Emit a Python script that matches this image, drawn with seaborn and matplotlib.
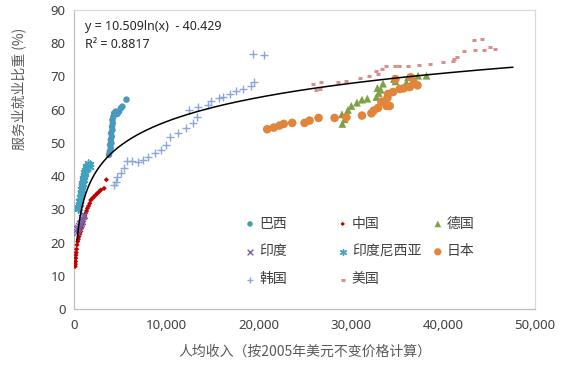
import numpy as np
import pandas as pd
import matplotlib
matplotlib.use("Agg")
import matplotlib.pyplot as plt
import seaborn as sns
from matplotlib.legend import Legend

# ---------------- data ----------------
brazil_x = [3800, 3880, 3990, 3910, 4060, 3990, 4100, 4020, 4170, 4130, 4210, 4170, 4280, 4350, 4530, 4710, 4890, 5080, 5250, 5690]
brazil_y = [46.4, 47.4, 48.4, 49.4, 49.9, 50.9, 51.9, 52.9, 53.9, 54.9, 55.9, 56.9, 57.9, 58.9, 59.4, 58.7, 59.4, 60.4, 60.9, 63.0]

china_x = [130, 150, 170, 190, 210, 240, 280, 330, 400, 470, 540, 630, 730, 820, 900, 1000, 1090, 1180, 1270, 1360,
           1450, 1580, 1710, 1820, 2000, 2170, 2350, 2530, 2720, 2900, 3260, 3510]
china_y = [12.8, 13.5, 14.3, 15.3, 16.2, 17.0, 18.0, 19.3, 20.3, 21.0, 21.8, 22.5, 23.3, 24.3, 25.3, 26.3, 27.3, 28.0, 28.8, 29.5,
           30.3, 31.0, 31.8, 32.8, 33.3, 33.8, 34.3, 34.8, 35.3, 35.8, 36.3, 38.9]

germany_x = [29099, 29349, 29055, 29708, 30077, 30686, 31230, 31816, 32795, 32904, 33045, 33262, 33512, 34860, 34708, 36056, 36230, 37317, 38230]
germany_y = [55.7, 57.1, 58.6, 59.9, 61.1, 62.1, 63.0, 63.3, 63.8, 66.5, 65.0, 66.0, 67.8, 68.5, 69.2, 68.2, 69.8, 70.2, 70.2]

india_x = [300, 360, 430, 520, 620, 730, 820, 900, 1000, 1090]
india_y = [23.3, 24.0, 24.3, 25.0, 25.5, 25.8, 26.6, 27.3, 27.9, 28.3]

indonesia_x = [420, 480, 560, 520, 620, 580, 680, 650, 740, 710, 800, 770, 860, 830, 920, 890, 980, 950, 1040, 1010,
               1100, 1070, 1160, 1130, 1220, 1200, 1290, 1260, 1360, 1330, 1430, 1500, 1470, 1580, 1680, 1760]
indonesia_y = [30.0, 30.6, 30.4, 31.4, 31.7, 32.5, 32.9, 33.7, 34.1, 34.9, 35.3, 36.1, 35.9, 36.9, 37.4, 37.9, 37.7, 38.7, 38.9, 39.5,
               39.7, 40.3, 40.5, 41.1, 40.9, 41.7, 41.9, 42.4, 42.1, 42.9, 42.5, 43.4, 43.9, 43.1, 43.6, 42.8]

japan_x = [20947, 21664, 22284, 22751, 23664, 25001, 25545, 26523, 28262, 29534, 31230, 32251, 32501, 32969, 33338, 33882,
           34240, 33990, 34055, 34599, 35328, 35762, 36414, 36882, 37251, 34860, 36523]
japan_y = [54.1, 54.6, 55.2, 55.7, 56.0, 56.0, 56.7, 57.5, 57.5, 57.7, 58.2, 58.9, 59.7, 60.5, 62.4, 61.1,
           61.1, 63.5, 64.7, 65.3, 66.2, 66.4, 66.8, 68.0, 67.3, 69.2, 69.7]

korea_x = [4348, 4533, 4707, 5076, 5435, 5794, 6337, 6989, 7533, 8077, 8772, 9424, 9968, 10435, 11229, 12142, 12859, 13294,
           12424, 13403, 14490, 14859, 15762, 16197, 16925, 17577, 18370, 19208, 19566, 19457, 20577]
korea_y = [37.3, 38.3, 39.8, 40.9, 42.4, 44.4, 44.4, 44.1, 44.7, 45.6, 46.9, 47.9, 49.4, 51.7, 53.1, 54.4, 56.1, 57.7,
           59.9, 60.9, 61.4, 62.7, 63.5, 63.8, 64.8, 65.5, 66.2, 67.2, 68.2, 76.7, 76.4]

usa_x = [25903, 26816, 26273, 26707, 28621, 29534, 30980, 31991, 32719, 32969, 33404, 33806, 34784, 35252, 36230, 37426,
         38589, 39969, 41121, 41197, 41491, 42284, 43480, 44491, 45111, 45654, 43404, 44208]
usa_y = [67.8, 68.2, 65.8, 66.3, 68.2, 68.7, 69.5, 70.0, 71.5, 70.7, 72.2, 73.0, 73.0, 73.0, 73.2, 73.3,
         73.6, 74.2, 74.5, 75.2, 75.7, 77.5, 77.8, 77.8, 78.7, 78.2, 81.0, 81.2]

# trendline shown on chart: y = 10.509 ln(x) - 40.429
trend_a = 10.509
trend_b = -40.429
trend_x_range = [330, 47600]

x_ticks = [0, 10000, 20000, 30000, 40000, 50000]
x_tick_labels = ["0", "10,000", "20,000", "30,000", "40,000", "50,000"]
y_ticks = [0, 10, 20, 30, 40, 50, 60, 70, 80, 90]
y_tick_labels = ["0", "10", "20", "30", "40", "50", "60", "70", "80", "90"]

series = [
    ("巴西", brazil_x, brazil_y),
    ("中国", china_x, china_y),
    ("德国", germany_x, germany_y),
    ("印度", india_x, india_y),
    ("印度尼西亚", indonesia_x, indonesia_y),
    ("日本", japan_x, japan_y),
    ("韩国", korea_x, korea_y),
    ("美国", usa_x, usa_y),
]

styles = {
    "巴西": dict(marker="o", s=22, color="#4A98C0", edgecolor="none"),
    "中国": dict(marker="D", s=7, color="#C00000", edgecolor="none"),
    "德国": dict(marker="^", s=32, color="#7FA146", edgecolor="none"),
    "印度": dict(marker="x", s=24, color="#7D60A3", linewidth=1.0),
    "印度尼西亚": dict(marker=(6, 2, 0), s=26, color="#43A3BE", linewidth=1.0),
    "日本": dict(marker="o", s=38, color="#E0853B", edgecolor="none"),
    "韩国": dict(marker="+", s=30, color="#8CA6D6", linewidth=1.0),
    "美国": dict(marker="_", s=10, color="#D6908F", linewidth=2.2),
}

# ---------------- style ----------------
sns.set_style("white")
plt.rcParams["font.family"] = ["Noto Sans", "Noto Sans CJK SC", "DejaVu Sans"]
CJK = ["Noto Sans CJK SC", "DejaVu Sans"]
TXT = "#404040"

fig = plt.figure(figsize=(5.65, 3.67), dpi=100)
ax = fig.add_axes([0.131, 0.158, 0.816, 0.815])

for name, xs, ys in series:
    df = pd.DataFrame({"x": xs, "y": ys})
    sns.scatterplot(data=df, x="x", y="y", ax=ax, label=name, zorder=3, **styles[name])

tx = np.geomspace(trend_x_range[0], trend_x_range[1], 200)
ty = trend_a * np.log(tx) + trend_b
sns.lineplot(x=tx, y=ty, ax=ax, color="black", linewidth=1.1, estimator=None, sort=False, zorder=4, legend=False)

if ax.get_legend() is not None:
    ax.get_legend().remove()

ax.set_xlim(0, 50000)
ax.set_ylim(0, 90)
ax.set_xticks(x_ticks)
ax.set_xticklabels(x_tick_labels)
ax.set_yticks(y_ticks)
ax.set_yticklabels(y_tick_labels)
ax.tick_params(axis="both", direction="in", length=4, width=0.8, color="#BFBFBF",
               labelsize=9.5, labelcolor=TXT, pad=6)
ax.tick_params(axis="x", pad=7)

for side in ["left", "bottom"]:
    ax.spines[side].set_color("#BFBFBF")
    ax.spines[side].set_linewidth(0.9)
for side in ["top", "right"]:
    ax.spines[side].set_visible(True)
    ax.spines[side].set_color("#D9D9D9")
    ax.spines[side].set_linewidth(0.9)

ax.set_xlabel("人均收入（按2005年美元不变价格计算）", family=CJK, fontsize=10, color="#595959")
ax.set_ylabel("服务业就业比重 (%)", family=CJK, fontsize=10, color="#595959")
ax.xaxis.set_label_coords(0.5, -0.12)
ax.yaxis.set_label_coords(-0.103, 0.736)

ax.text(0.024, 0.943, "y = 10.509ln(x)  - 40.429", transform=ax.transAxes, fontsize=9,
        color="#262626", ha="left", va="center")
ax.text(0.024, 0.886, "R² = 0.8817", transform=ax.transAxes, fontsize=9,
        color="#262626", ha="left", va="center")

# legend: three equally spaced columns
handles, labels = ax.get_legend_handles_labels()
hmap = dict(zip(labels, handles))
columns = [["巴西", "印度", "韩国"], ["中国", "印度尼西亚", "美国"], ["德国", "日本"]]
col_x = [0.3727, 0.5737, 0.7800]
for cx, names in zip(col_x, columns):
    leg = Legend(ax, [hmap[n] for n in names], names, loc="upper left",
                 bbox_to_anchor=(cx, 0.309), frameon=False, borderpad=0, borderaxespad=0,
                 handlelength=0.6, handletextpad=0.35, labelspacing=1.0, markerscale=0.85,
                 prop={"family": CJK, "size": 10}, labelcolor=TXT)
    ax.add_artist(leg)

fig.savefig("out.png", dpi=100)
